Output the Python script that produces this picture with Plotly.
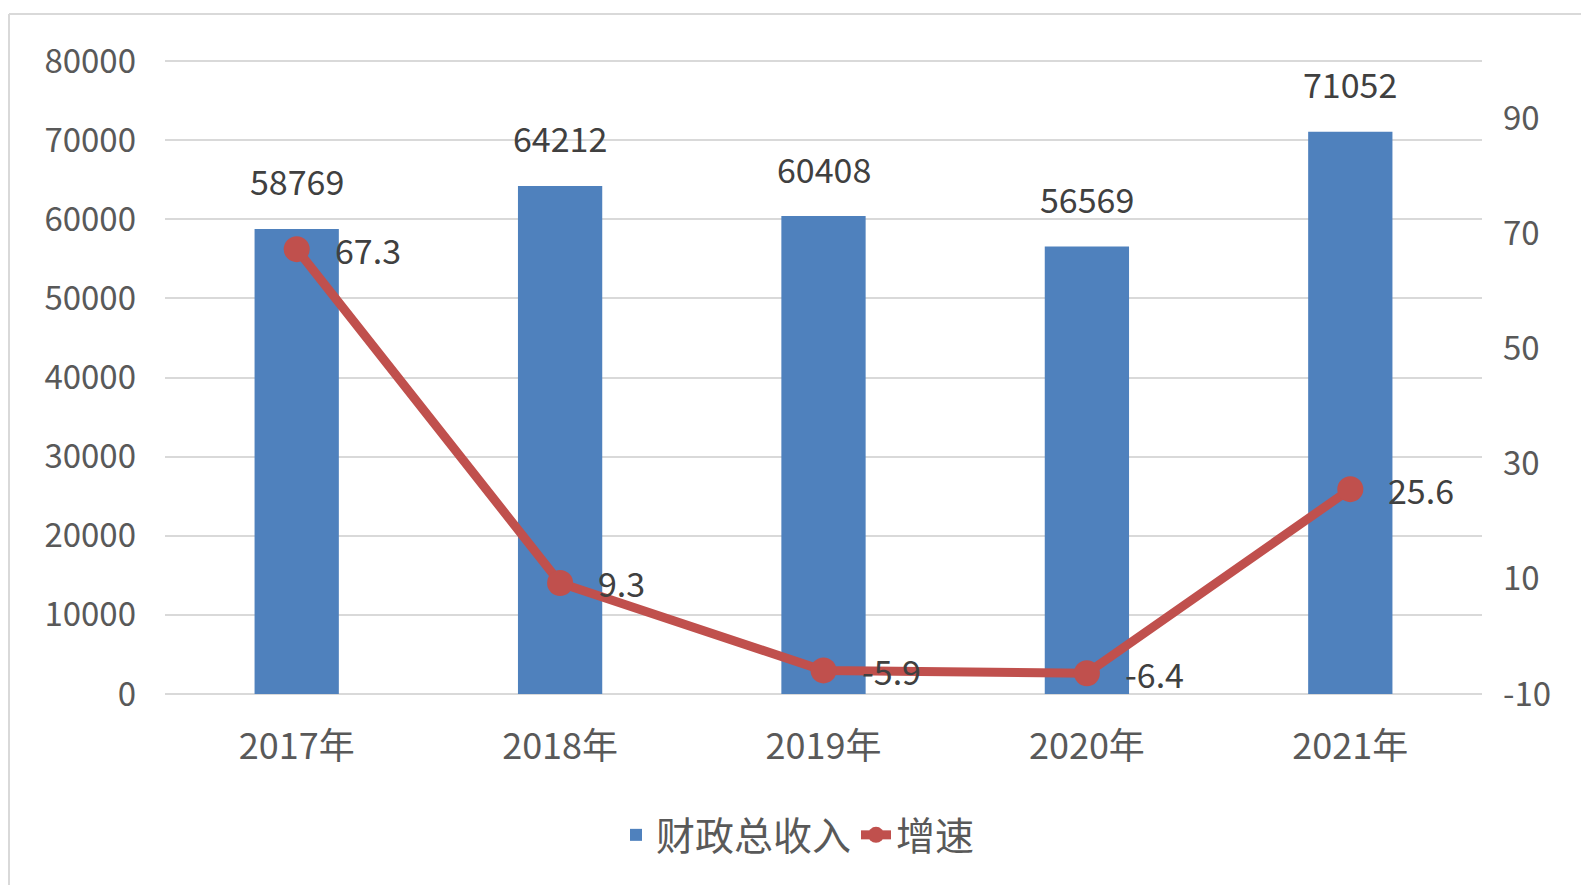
import plotly.graph_objects as go

categories = ["2017年", "2018年", "2019年", "2020年", "2021年"]
revenue = [58769, 64212, 60408, 56569, 71052]
growth = [67.3, 9.3, -5.9, -6.4, 25.6]
growth_labels = ["67.3", "9.3", "-5.9", "-6.4", "25.6"]
left_ticks = [0, 10000, 20000, 30000, 40000, 50000, 60000, 70000, 80000]
left_ticktext = ["0", "10000", "20000", "30000", "40000", "50000", "60000", "70000", "80000"]
right_ticks = [-10, 10, 30, 50, 70, 90]
right_ticktext = ["-10", "10", "30", "50", "70", "90"]

FONT = "Noto Sans CJK SC, Noto Sans, sans-serif"
BLUE = "#4F81BD"
RED = "#C0504D"
GRID = "#D9D9D9"

fig = go.Figure()
fig.add_trace(go.Bar(
    x=categories, y=revenue, name="财政总收入",
    marker=dict(color=BLUE, line=dict(width=0)),
    yaxis="y",
))
fig.add_trace(go.Scatter(
    x=categories, y=growth, name="增速",
    mode="lines+markers",
    line=dict(color=RED, width=9),
    marker=dict(color=RED, size=26),
    yaxis="y2",
))

annotations = []
for c, v in zip(categories, revenue):
    annotations.append(dict(
        x=c, y=v, xref="x", yref="y", text=str(v), showarrow=False,
        yanchor="middle", xanchor="center", yshift=48,
        font=dict(family=FONT, size=34, color="#404040"),
    ))
for c, v, t in zip(categories, growth, growth_labels):
    annotations.append(dict(
        x=c, y=v, xref="x", yref="y2", text=t, showarrow=False,
        yanchor="middle", xanchor="left", xshift=36,
        font=dict(family=FONT, size=34, color="#404040"),
    ))

OFF = 8  # page body margin
PAD = 2  # px of padding so edge gridlines are drawn
W, H = 1589 - OFF, 885 - OFF
L, R, T, B = 165 - OFF, 107, 61 - OFF - PAD, 191 - PAD
pw, ph = W - L - R, H - T - B
px = lambda p: (p - OFF - L) / pw
py = lambda p: (H - B - (p - OFF)) / ph
pad_l = 80000 * PAD / 633
pad_r = 110 * PAD / 633

fig.update_layout(
    width=W, height=H,
    margin=dict(l=L, r=R, t=T, b=B, autoexpand=False),
    paper_bgcolor="white", plot_bgcolor="white",
    bargap=0.68,
    font=dict(family=FONT, color="#595959"),
    xaxis=dict(
        type="category", showgrid=False, showline=False, zeroline=False,
        ticks="", tickfont=dict(family=FONT, size=36, color="#595959"),
        ticklabelstandoff=26,
    ),
    yaxis=dict(
        range=[-pad_l, 80000 + pad_l], tickvals=left_ticks, ticktext=left_ticktext,
        showgrid=True, gridcolor=GRID, gridwidth=2, zeroline=False, showline=False,
        ticks="", tickfont=dict(family=FONT, size=33, color="#595959"),
        ticklabelstandoff=28,
    ),
    yaxis2=dict(
        range=[-10 - pad_r, 100 + pad_r], tickvals=right_ticks, ticktext=right_ticktext,
        overlaying="y", side="right",
        showgrid=False, zeroline=False, showline=False, ticks="",
        tickfont=dict(family=FONT, size=33, color="#595959"),
        ticklabelstandoff=20,
    ),
    legend=dict(
        orientation="h", x=px(798), y=py(835), xanchor="center", yanchor="middle",
        font=dict(family=FONT, size=39, color="#595959"),
        bgcolor="rgba(0,0,0,0)",
    ),
    annotations=annotations,
    shapes=[
        dict(type="line", xref="paper", yref="paper", x0=px(9), x1=px(1600),
             y0=py(14), y1=py(14), line=dict(color=GRID, width=2), layer="below"),
        dict(type="line", xref="paper", yref="paper", x0=px(9), x1=px(9),
             y0=py(14), y1=py(900), line=dict(color=GRID, width=2), layer="below"),
    ],
)

fig.write_html("out.html")
